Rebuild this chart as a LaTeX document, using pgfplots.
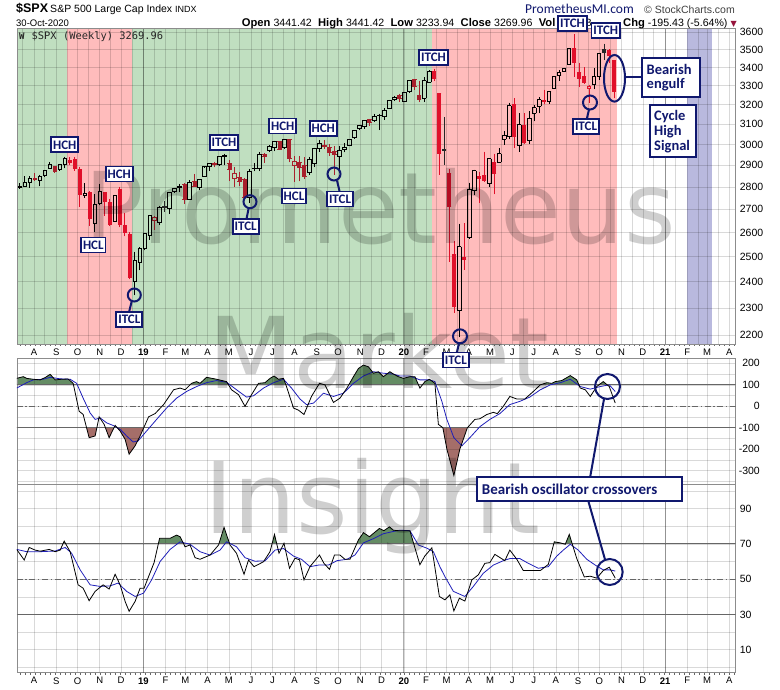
\documentclass[border=0pt]{standalone}
\usepackage{pgfplots}
\pgfplotsset{compat=1.18}
\usepackage{pgfplotstable}
\usepackage{fontspec}
\setmainfont{Liberation Sans}
\newfontfamily\carlito{Carlito}
\newfontfamily\dmono{DejaVu Sans Mono}
\newfontfamily\dejavu{DejaVu Sans}

\definecolor{navy}{RGB}{16,24,110}
\definecolor{gzone}{RGB}{192,223,192}
\definecolor{rzone}{RGB}{255,188,188}
\definecolor{bzone}{RGB}{185,185,222}
\definecolor{brred}{RGB}{224,16,42}
\definecolor{dkred}{RGB}{168,32,44}
\definecolor{oscgreen}{RGB}{100,140,100}
\definecolor{oscbrown}{RGB}{165,110,105}
\definecolor{sigblue}{RGB}{30,30,185}
\definecolor{tri}{RGB}{150,20,60}

% weekly candles: k = week index (0 = week ending 4-Jan-2019), g = colour group
\pgfplotstableread{
k o h l c g
-25 2776 2804 2770 2801 0
-24 2797 2816 2793 2802 0
-23 2804 2848 2802 2819 0
-22 2821 2848 2796 2840 0
-21 2840 2863 2830 2833 4
-20 2828 2855 2802 2850 0
-19 2853 2877 2847 2875 0
-18 2884 2916 2884 2902 0
-17 2896 2898 2864 2872 4
-16 2880 2906 2874 2905 0
-15 2906 2941 2886 2930 0
-14 2924 2940 2903 2914 3
-13 2926 2940 2874 2886 3
-12 2882 2894 2710 2767 3
-11 2763 2816 2750 2768 0
-10 2773 2779 2628 2658 3
-9 2640 2767 2603 2723 0
-8 2726 2815 2717 2781 0
-7 2773 2775 2671 2736 3
-6 2731 2746 2631 2633 3
-5 2649 2760 2649 2760 0
-4 2790 2800 2621 2633 3
-3 2630 2685 2583 2600 3
-2 2590 2601 2409 2417 3
-1 2400 2520 2347 2486 0
0 2476 2538 2444 2532 0
1 2532 2597 2525 2596 0
2 2588 2675 2570 2671 0
3 2653 2672 2612 2665 2
4 2644 2716 2631 2707 0
5 2712 2738 2688 2708 5
6 2703 2776 2681 2776 0
7 2780 2795 2773 2793 0
8 2797 2814 2775 2804 0
9 2812 2817 2722 2743 4
10 2741 2830 2741 2822 0
11 2823 2860 2800 2800 4
12 2796 2836 2785 2834 0
13 2849 2894 2849 2893 0
14 2893 2910 2874 2907 0
15 2907 2917 2890 2905 4
16 2904 2940 2898 2940 0
17 2941 2955 2900 2946 0
18 2909 2923 2826 2881 4
19 2840 2892 2801 2860 2
20 2841 2867 2805 2826 4
21 2832 2841 2750 2752 4
22 2751 2884 2728 2873 0
23 2886 2911 2872 2887 0
24 2887 2964 2873 2950 0
25 2952 2959 2912 2942 4
26 2971 2996 2963 2990 0
27 2986 3018 2966 3014 0
28 3013 3017 2973 2977 4
29 2986 3028 2980 3026 0
30 3025 3027 2914 2932 4
31 2898 2944 2822 2919 2
32 2914 2943 2825 2889 4
33 2898 2939 2835 2847 4
34 2866 2940 2856 2926 0
35 2910 2985 2891 2979 0
36 2980 3021 2964 3007 0
37 2996 3022 2978 2992 4
38 2983 3002 2946 2962 4
39 2967 2993 2856 2952 4
40 2944 2993 2874 2970 0
41 2974 3008 2962 2986 0
42 2996 3027 2992 3023 0
43 3032 3067 3027 3067 0
44 3078 3097 3070 3093 0
45 3090 3120 3077 3120 0
46 3123 3127 3091 3110 4
47 3117 3154 3113 3141 0
48 3143 3154 3070 3146 0
49 3141 3183 3123 3169 0
50 3183 3226 3183 3221 0
51 3225 3248 3223 3240 0
52 3247 3258 3216 3235 4
53 3218 3267 3214 3265 0
54 3271 3330 3263 3330 0
55 3334 3338 3280 3295 4
56 3248 3328 3214 3226 4
57 3235 3347 3214 3328 0
58 3318 3385 3316 3380 0
59 3380 3393 3328 3338 3
60 3257 3260 2856 2954 3
61 2974 3137 2902 2970 5
62 2864 2883 2479 2711 3
63 2509 2562 2280 2305 3
64 2290 2637 2192 2541 0
65 2498 2641 2447 2489 3
66 2578 2819 2575 2790 0
67 2782 2880 2761 2875 0
68 2846 2870 2727 2837 3
69 2854 2965 2822 2831 3
70 2815 2933 2798 2930 0
71 2915 2955 2766 2864 3
72 2914 2981 2914 2955 0
73 3026 3068 2999 3044 0
74 3038 3211 3025 3194 0
75 3199 3233 2984 3041 3
76 2993 3155 2965 3098 0
77 3094 3155 3004 3009 3
78 3018 3166 3000 3130 0
79 3155 3198 3115 3185 0
80 3191 3238 3155 3225 0
81 3224 3280 3202 3216 3
82 3219 3272 3205 3271 0
83 3288 3352 3284 3351 0
84 3356 3387 3326 3373 0
85 3380 3399 3379 3397 0
86 3418 3509 3414 3508 0
87 3508 3588 3350 3427 3
88 3371 3425 3293 3341 3
89 3350 3402 3310 3319 3
90 3285 3306 3209 3298 1
91 3310 3398 3281 3348 0
92 3349 3482 3332 3477 0
93 3500 3534 3441 3484 5
94 3493 3502 3424 3465 3
95 3441 3441 3234 3270 3
}\spx

\pgfplotstableread{
k v
-24.6 130
-23.3 138
-22.6 130
-21.3 126
-19.9 123
-18.9 134
-17.9 149
-16.9 123
-15.6 126
-14.3 127
-13.3 107
-12.1 -23
-11.3 -38
-10.1 -146
-8.9 -138
-8.1 -49
-7.1 -84
-6.1 -146
-4.9 -89
-3.9 -115
-2.9 -154
-2.1 -223
-0.9 -184
0.1 -138
1.8 -49
3.1 -34
4.8 8
6.8 77
8.1 85
9.1 77
10.4 107
11.4 115
12.1 107
13.4 135
15.4 126
17.4 115
18.4 77
19.8 54
21.1 0
22.4 54
23.8 107
25.1 110
26.1 130
26.9 141
27.8 126
28.8 130
29.4 92
30.8 -8
31.8 -18
32.9 -38
34.4 46
36.0 107
37.1 100
38.8 18
40.1 38
41.5 85
42.8 138
43.8 176
44.8 192
45.8 184
46.8 154
47.8 161
48.8 138
50.1 161
50.8 150
51.8 138
52.8 130
54.1 138
55.1 138
56.1 85
57.1 115
58.0 126
59.1 107
59.8 -84
60.7 -100
61.5 -199
62.9 -322
64.1 -199
65.6 -100
67.1 -61
68.1 -58
69.5 -38
70.8 -28
71.6 -34
72.8 0
74.1 46
75.5 34
77.1 34
78.8 69
80.2 100
81.5 110
82.5 107
83.2 115
84.5 120
86.2 143
87.5 123
88.2 85
89.2 77
90.2 46
91.5 92
92.8 115
94.0 92
95.2 15
}\ccib

\pgfplotstableread{
k v
-24.6 85
-22.6 110
-21.3 123
-19.3 126
-17.9 135
-15.9 128
-13.9 126
-12.6 107
-11.3 38
-9.9 -31
-8.9 -61
-7.9 -54
-6.6 -77
-5.3 -89
-3.9 -107
-2.6 -138
-1.3 -166
-0.3 -161
1.4 -115
3.4 -61
5.4 -8
7.4 38
9.4 69
11.4 92
13.4 110
15.4 120
17.4 112
19.4 77
21.4 43
22.8 49
24.8 85
26.8 110
28.8 126
30.4 85
32.1 34
33.4 8
34.8 15
36.8 61
38.8 46
40.8 61
42.8 107
44.8 141
46.8 161
48.8 154
50.8 150
52.1 141
54.1 141
56.1 123
58.1 123
59.1 115
60.5 23
61.5 -61
62.9 -146
64.5 -184
66.1 -146
68.1 -95
70.1 -61
72.1 -34
74.1 8
76.1 23
78.1 43
80.2 77
82.2 100
84.2 110
86.2 126
88.2 92
90.2 80
92.2 92
94.0 100
95.2 69
}\ccis

\pgfplotstableread{
k v
-24.6 66.9
-23.1 60.9
-22.1 68.0
-20.9 66.5
-19.9 65.9
-18.1 66.9
-16.9 65.6
-15.9 66.5
-15.1 71.6
-13.9 65.6
-12.3 46.8
-11.3 44.9
-10.1 37.8
-8.9 43.1
-7.3 46.8
-6.1 44.4
-4.9 52.8
-3.9 46.8
-2.9 37.4
-2.1 31.8
-0.9 37.4
0.1 44.9
0.9 44.9
1.8 51.5
2.9 59.4
4.0 73.2
5.1 73.2
6.1 73.2
7.4 75.0
8.1 74.1
9.1 68.4
10.1 69.4
11.1 62.2
12.1 61.3
14.1 63.7
15.8 69.4
16.9 79.4
18.1 69.4
19.4 64.7
20.9 52.8
21.8 60.9
22.9 57.1
24.8 59.9
26.1 65.6
27.0 75.4
27.9 64.7
28.9 70.4
30.0 56.2
31.1 61.9
32.0 61.0
32.9 49.6
34.1 57.1
36.0 63.7
36.9 59.0
38.0 55.6
39.0 63.7
40.1 63.7
41.1 61.3
42.1 61.3
43.8 72.3
44.8 76.4
46.0 74.1
48.0 78.8
48.9 77.5
50.0 79.7
50.8 77.8
51.8 77.5
54.1 77.5
56.1 58.2
57.1 63.2
58.5 67.8
60.0 40.2
61.1 38.3
62.1 41.1
62.9 32.0
64.0 39.2
65.1 37.6
66.5 49.6
67.8 52.5
69.1 59.0
70.1 59.4
71.1 64.1
73.1 60.5
74.1 66.5
75.5 61.3
76.8 54.9
78.5 54.9
80.2 54.9
81.8 58.4
83.0 71.2
84.2 70.6
85.2 69.8
86.0 75.4
87.5 61.7
89.0 51.3
90.2 51.7
91.5 50.6
92.8 54.9
94.0 56.8
95.2 50.6
}\rsib

\pgfplotstableread{
k v
-24.6 66.9
-22.6 65.6
-19.9 65.6
-16.9 66.0
-14.9 68.0
-13.6 64.7
-11.9 55.3
-9.9 46.8
-7.9 45.9
-5.9 46.2
-4.3 47.8
-2.6 43.1
-0.9 40.2
0.8 42.1
2.4 49.6
4.1 60.0
6.1 66.9
8.1 71.2
10.1 69.8
12.1 65.6
14.1 63.7
16.1 66.5
17.4 71.2
19.4 68.4
21.1 62.2
23.1 60.2
25.1 60.4
27.1 66.5
28.8 67.4
30.8 63.1
32.4 61.3
34.1 57.1
35.8 58.0
37.8 58.0
39.5 60.5
41.5 61.3
43.1 63.7
44.8 70.6
46.8 73.0
48.8 75.8
50.8 77.1
52.1 77.8
54.1 77.5
55.8 69.4
57.5 67.6
58.8 65.6
60.1 57.1
61.1 51.5
62.8 43.1
65.1 40.2
66.8 45.9
68.8 53.4
70.8 58.0
72.8 60.5
74.1 61.7
76.1 61.7
77.8 59.0
79.8 56.2
81.8 57.1
83.5 63.1
84.8 66.5
86.2 69.8
87.8 66.5
89.5 61.3
91.2 58.0
92.8 55.3
94.2 55.3
95.2 54.6
}\rsis

% candle drawing helpers (price axis is drawn on a natural-log scale)
\newcommand{\wickplots}[2]{%
\addplot[forget plot, draw=none, mark=none, restrict expr to domain={\thisrow{g}}{#1},
  error bars/.cd, y dir=both, y explicit, error mark=none,
  error bar style={line width=0.8bp, draw=#2, solid}]
  table[x=k, y expr={ln(\thisrow{h})}, y error plus expr=0, y error minus expr={ln(\thisrow{h})-ln(max(\thisrow{o},\thisrow{c}))}] {\spx};
\addplot[forget plot, draw=none, mark=none, restrict expr to domain={\thisrow{g}}{#1},
  error bars/.cd, y dir=both, y explicit, error mark=none,
  error bar style={line width=0.8bp, draw=#2, solid}]
  table[x=k, y expr={ln(\thisrow{l})}, y error plus expr={ln(min(\thisrow{o},\thisrow{c}))-ln(\thisrow{l})}, y error minus expr=0] {\spx};
}
\newcommand{\capplots}[2]{%
\addplot[forget plot, only marks, mark=-, mark size=2.1bp, mark options={line width=0.9bp, draw=#2, solid}, restrict expr to domain={\thisrow{g}}{#1}] table[x=k, y expr={ln(\thisrow{o})}] {\spx};
\addplot[forget plot, only marks, mark=-, mark size=2.1bp, mark options={line width=0.9bp, draw=#2, solid}, restrict expr to domain={\thisrow{g}}{#1}] table[x=k, y expr={ln(\thisrow{c})}] {\spx};
}
\newcommand{\filledplots}[2]{%
\wickplots{#1}{#2}
\addplot[forget plot, draw=none, mark=none, restrict expr to domain={\thisrow{g}}{#1},
  error bars/.cd, y dir=both, y explicit, error mark=none,
  error bar style={line width=4bp, draw=#2, solid}]
  table[x=k, y expr={ln(\thisrow{o})}, y error plus expr=0, y error minus expr={ln(\thisrow{o})-ln(\thisrow{c})}] {\spx};
\capplots{#1}{#2}
}
\newcommand{\hollowplots}[2]{%
\wickplots{#1}{#2}
\addplot[forget plot, draw=none, mark=none, restrict expr to domain={\thisrow{g}}{#1},
  error bars/.cd, y dir=both, y explicit, error mark=none,
  error bar style={line width=0.9bp, draw=#2, solid}]
  table[x expr=\thisrow{k}-0.33, y expr={ln(\thisrow{o})}, y error plus expr={ln(\thisrow{c})-ln(\thisrow{o})}, y error minus expr=0] {\spx};
\addplot[forget plot, draw=none, mark=none, restrict expr to domain={\thisrow{g}}{#1},
  error bars/.cd, y dir=both, y explicit, error mark=none,
  error bar style={line width=0.9bp, draw=#2, solid}]
  table[x expr=\thisrow{k}+0.33, y expr={ln(\thisrow{o})}, y error plus expr={ln(\thisrow{c})-ln(\thisrow{o})}, y error minus expr=0] {\spx};
\capplots{#1}{#2}
}

\pgfplotsset{
  panel/.style={
    scale only axis, width=718.7bp, xmin=-24.54, xmax=119.31, anchor=north west,
    axis line style={draw=black!45, line width=0.8bp},
    tick style={draw=none},
    xtick={-21.12,-16.69,-12.40,-7.97,-3.69,0.74,5.17,9.17,13.60,17.88,22.31,26.60,31.03,35.45,39.74,44.17,48.45,52.88,57.31,61.45,65.88,70.17,74.60,78.88,83.31,87.74,92.03,96.45,100.74,105.17,109.60,113.60,118.03},
    xmajorgrids, ymajorgrids,
    grid style={black, opacity=0.15, line width=0.6bp},
    minor grid style={black, opacity=0.15, line width=0.6bp},
    yticklabel pos=right,
    yticklabel style={font=\fontsize{10.5bp}{12bp}\selectfont, inner sep=0pt},
    xticklabel style={font=\fontsize{9.5bp}{11bp}\selectfont, inner sep=0pt, anchor=north, yshift=-4.5bp},
    extra x ticks={0.74,52.88,105.17}, extra x tick labels={},
    extra x tick style={grid style={black, opacity=0.32, line width=0.7bp}},
  },
  fillpanel/.style={scale only axis, width=718.7bp, xmin=-24.54, xmax=119.31, anchor=north west, hide axis, clip=true},
  monthlabels/.style={xticklabels={A,S,O,N,D,\textbf{19},F,M,A,M,J,J,A,S,O,N,D,\textbf{20},F,M,A,M,J,J,A,S,O,N,D,\textbf{21},F,M,A}},
}

\begin{document}
\begin{tikzpicture}
\fill[white] (0,0) rectangle (780bp,-690bp);
% cycle zones
\fill[gzone] (17bp,-28.5bp) rectangle (66.7bp,-344bp);
\fill[rzone] (66.7bp,-28.5bp) rectangle (131.7bp,-344bp);
\fill[gzone] (131.7bp,-28.5bp) rectangle (431.7bp,-344bp);
\fill[rzone] (431.7bp,-28.5bp) rectangle (617bp,-344bp);
\fill[bzone] (687bp,-28.5bp) rectangle (712bp,-344bp);

% ---------- price panel (log scale: y = ln price) ----------
\begin{axis}[panel, monthlabels, at={(17bp,-28.5bp)}, height=315.5bp,
  ymin=7.681838, ymax=8.194782,
  ytick={7.696213,7.740664,7.783224,7.824046,7.863267,7.901007,7.937375,7.972466,8.006368,8.039157,8.070906,8.101678,8.131531,8.160518,8.188689},
  yticklabels={2200,2300,2400,2500,2600,2700,2800,2900,3000,3100,3200,3300,3400,3500,3600},
  yticklabel style={anchor=west, xshift=4bp},
  minor xtick={-23.41,-18.98,-14.55,-10.26,-5.83,-1.55,2.88,7.31,11.31,15.74,20.02,24.45,28.74,33.17,37.59,41.88,46.31,50.59,55.02,59.45,63.59,68.02,72.31,76.74,81.02,85.45,89.88,94.17,98.59,102.88,107.31,111.74,115.74},
  xminorgrids,
]
\hollowplots{-0.5:0.5}{black}
\hollowplots{0.5:1.5}{brred}
\hollowplots{1.5:2.5}{dkred}
\filledplots{2.5:3.5}{brred}
\filledplots{3.5:4.5}{dkred}
\filledplots{4.5:5.5}{black!85}
\end{axis}

% ---------- CCI fills (clipped sub-panels) ----------
\begin{axis}[fillpanel, at={(17bp,-358.3bp)}, height=26.53bp, ymin=100, ymax=223.5]
\addplot[fill=oscgreen, draw=none] table[x=k,y=v] {\ccib} \closedcycle;
\end{axis}
\begin{axis}[fillpanel, at={(17bp,-427.79bp)}, height=56.21bp, ymin=100, ymax=361.7, y dir=reverse]
\addplot[fill=oscbrown, draw=none] table[x=k,y expr={-\thisrow{v}}] {\ccib} \closedcycle;
\end{axis}
% ---------- CCI panel ----------
\begin{axis}[panel, at={(17bp,-358.3bp)}, height=125.7bp,
  ymin=-361.7, ymax=223.5, xticklabels={},
  ytick={-300,-200,-100,0,100,200}, yticklabels={-300,-200,-100,0,100,200},
  yticklabel style={anchor=east, xshift=24.3bp},
  minor ytick={-350,-250,-150,-50,50,150}, yminorgrids,
]
\draw[black!60, line width=0.9bp] (axis cs:-24.54,100) -- (axis cs:119.31,100);
\draw[black!60, line width=0.9bp] (axis cs:-24.54,-100) -- (axis cs:119.31,-100);
\draw[black!60, line width=0.8bp, dash pattern=on 6bp off 2.5bp on 1.5bp off 2.5bp] (axis cs:-24.54,0) -- (axis cs:119.31,0);
\addplot[sigblue, line width=0.8bp] table[x=k,y=v] {\ccis};
\addplot[black, line width=0.8bp] table[x=k,y=v] {\ccib};
\end{axis}

% ---------- RSI fill ----------
\begin{axis}[fillpanel, at={(17bp,-484bp)}, height=59.93bp, ymin=70, ymax=104]
\addplot[fill=oscgreen, draw=none] table[x=k,y=v] {\rsib} \closedcycle;
\end{axis}
% ---------- RSI panel ----------
\begin{axis}[panel, monthlabels, at={(17bp,-484bp)}, height=188.7bp,
  ymin=-3.05, ymax=104,
  ytick={10,30,50,70,90}, yticklabels={10,30,50,70,90},
  yticklabel style={anchor=west, xshift=4bp},
  minor ytick={0,20,40,60,80,100}, yminorgrids,
]
\draw[black!60, line width=0.9bp] (axis cs:-24.54,70) -- (axis cs:119.31,70);
\draw[black!60, line width=0.9bp] (axis cs:-24.54,30) -- (axis cs:119.31,30);
\draw[black!60, line width=0.8bp, dash pattern=on 6bp off 2.5bp on 1.5bp off 2.5bp] (axis cs:-24.54,50) -- (axis cs:119.31,50);
\addplot[sigblue, line width=0.8bp] table[x=k,y=v] {\rsis};
\addplot[black, line width=0.8bp] table[x=k,y=v] {\rsib};
\end{axis}

% weekly tick dots
\draw[black!60, line width=1.2bp, dash pattern=on 1bp off 3.996bp] (19.8bp,-345.3bp) -- (735bp,-345.3bp);
\draw[black!60, line width=1.2bp, dash pattern=on 1bp off 3.996bp] (19.8bp,-673.9bp) -- (735bp,-673.9bp);

% ---------- header ----------
\node[anchor=base west, inner sep=0] at (16bp,-12.7bp) {\fontsize{12.5bp}{14bp}\selectfont\textbf{\$SPX}\,\fontsize{10.5bp}{12bp}\selectfont S\&P 500 Large Cap Index\ \fontsize{9bp}{10bp}\selectfont INDX};
\node[anchor=base west, inner sep=0] at (16bp,-26bp) {\fontsize{9.5bp}{11bp}\selectfont 30-Oct-2020};
\newcommand{\hl}[1]{{\fontsize{11.2bp}{12bp}\selectfont\textbf{#1}}}
\newcommand{\hv}[1]{{\fontsize{10.6bp}{12bp}\selectfont #1}}
\node[anchor=base west, inner sep=0] at (241.7bp,-26bp) {\hl{Open}\hspace{3bp}\hv{3441.42}\hspace{6.3bp}\hl{High}\hspace{3bp}\hv{3441.42}\hspace{6.3bp}\hl{Low}\hspace{3bp}\hv{3233.94}\hspace{6.3bp}\hl{Close}\hspace{3bp}\hv{3269.96}\hspace{6.3bp}\hl{Vol}\hspace{3bp}\hv{10.75B}};
\node[anchor=base west, inner sep=0] at (623bp,-26bp) {\hl{Chg}\hspace{3bp}\hv{-195.43 (-5.64\%)}\hspace{3bp}\textcolor{tri}{\dejavu\fontsize{8bp}{9bp}\selectfont ▼}};
\node[anchor=base west, inner sep=0, text=navy] at (525bp,-13.3bp) {\carlito\fontsize{13.5bp}{15bp}\selectfont PrometheusMI.com};
\node[anchor=base east, inner sep=0, text=black!75] at (735bp,-13bp) {\fontsize{10.5bp}{12bp}\selectfont © StockCharts.com};
\node[anchor=base west, inner sep=0, text=black!85] at (31.5bp,-39.5bp) {\dmono\fontsize{10.4bp}{12bp}\selectfont \$SPX (Weekly) 3269.96};
\node[anchor=base west, inner sep=0, text=black!85] at (19bp,-39.5bp) {\dmono\fontsize{9bp}{12bp}\selectfont\bfseries W};

% ---------- watermark ----------
\begin{scope}[opacity=0.19]
\node[anchor=base west, inner sep=0, text=black] at (84.3bp,-243.3bp) {\dejavu\fontsize{99bp}{99bp}\selectfont Prometheus};
\node[anchor=base west, inner sep=0, text=black] at (208.3bp,-388.3bp) {\dejavu\fontsize{99bp}{99bp}\selectfont Market};
\node[anchor=base west, inner sep=0, text=black] at (204.3bp,-533.3bp) {\dejavu\fontsize{99bp}{99bp}\selectfont Insight};
\end{scope}

% ---------- annotations ----------
\tikzset{abox/.style={draw=navy, line width=1.8bp, fill=white, text=navy, inner xsep=2bp, inner ysep=1.2bp, minimum height=15bp,
  font=\carlito\bfseries\fontsize{13bp}{14bp}\selectfont},
  aline/.style={draw=navy, line width=2bp}}
\draw[aline] (134.3bp,-295bp) circle (6.5bp);
\draw[aline] (131.7bp,-301.3bp) -- (129.3bp,-311bp);
\draw[aline] (250bp,-201.7bp) circle (6.5bp);
\draw[aline] (248.7bp,-208bp) -- (246.5bp,-219bp);
\draw[aline] (334bp,-174bp) circle (6.5bp);
\draw[aline] (337bp,-180.5bp) -- (339.5bp,-191bp);
\draw[aline] (460bp,-336.3bp) circle (7bp);
\draw[aline] (459bp,-343bp) -- (457bp,-352bp);
\draw[aline] (590bp,-102.5bp) circle (7bp);
\draw[aline] (589bp,-109.5bp) -- (587bp,-118bp);
\draw[aline] (614.5bp,-78.3bp) ellipse (10.5bp and 23.3bp);
\draw[aline] (625bp,-77.3bp) -- (642bp,-77.3bp);
\draw[aline] (607.5bp,-386.5bp) circle (12.5bp);
\draw[aline] (604bp,-399bp) -- (590bp,-478bp);
\draw[aline] (609.7bp,-572bp) circle (13bp);
\draw[aline] (588bp,-500bp) -- (605bp,-559.5bp);
\node[abox] at (64.7bp,-144.8bp) {HCH};
\node[abox] at (119.3bp,-174bp) {HCH};
\node[abox] at (93.3bp,-245bp) {HCL};
\node[abox] at (129.3bp,-319.3bp) {ITCL};
\node[abox] at (224bp,-142.3bp) {ITCH};
\node[abox] at (245.7bp,-226.7bp) {ITCL};
\node[abox] at (282.7bp,-126bp) {HCH};
\node[abox] at (323.3bp,-128.3bp) {HCH};
\node[abox] at (294bp,-196bp) {HCL};
\node[abox] at (340bp,-199bp) {ITCL};
\node[abox] at (433.5bp,-57.5bp) {ITCH};
\node[abox] at (455.8bp,-360bp) {ITCL};
\node[abox] at (572.5bp,-23.7bp) {ITCH};
\node[abox] at (605.8bp,-30.3bp) {ITCH};
\node[abox] at (586bp,-126.7bp) {ITCL};
\draw[draw=navy, line width=1.8bp, fill=white] (641.7bp,-58.3bp) rectangle (700bp,-96.7bp);
\node[anchor=base west, inner sep=0, text=navy] at (646.5bp,-74bp) {\carlito\bfseries\fontsize{14.5bp}{15bp}\selectfont Bearish};
\node[anchor=base west, inner sep=0, text=navy] at (646.5bp,-88.5bp) {\carlito\bfseries\fontsize{14.5bp}{15bp}\selectfont engulf};
\draw[draw=navy, line width=1.8bp, fill=white] (650bp,-105bp) rectangle (696bp,-156.7bp);
\node[anchor=base west, inner sep=0, text=navy] at (654bp,-120bp) {\carlito\bfseries\fontsize{14.5bp}{15bp}\selectfont Cycle};
\node[anchor=base west, inner sep=0, text=navy] at (654bp,-135bp) {\carlito\bfseries\fontsize{14.5bp}{15bp}\selectfont High};
\node[anchor=base west, inner sep=0, text=navy] at (654bp,-150bp) {\carlito\bfseries\fontsize{14.5bp}{15bp}\selectfont Signal};
\draw[draw=navy, line width=1.8bp, fill=white] (476.7bp,-477.3bp) rectangle (681.7bp,-500.7bp);
\node[anchor=base west, inner sep=0, text=navy] at (481.7bp,-494bp) {\carlito\bfseries\fontsize{15bp}{16bp}\selectfont Bearish oscillator crossovers};
\end{tikzpicture}
\end{document}
